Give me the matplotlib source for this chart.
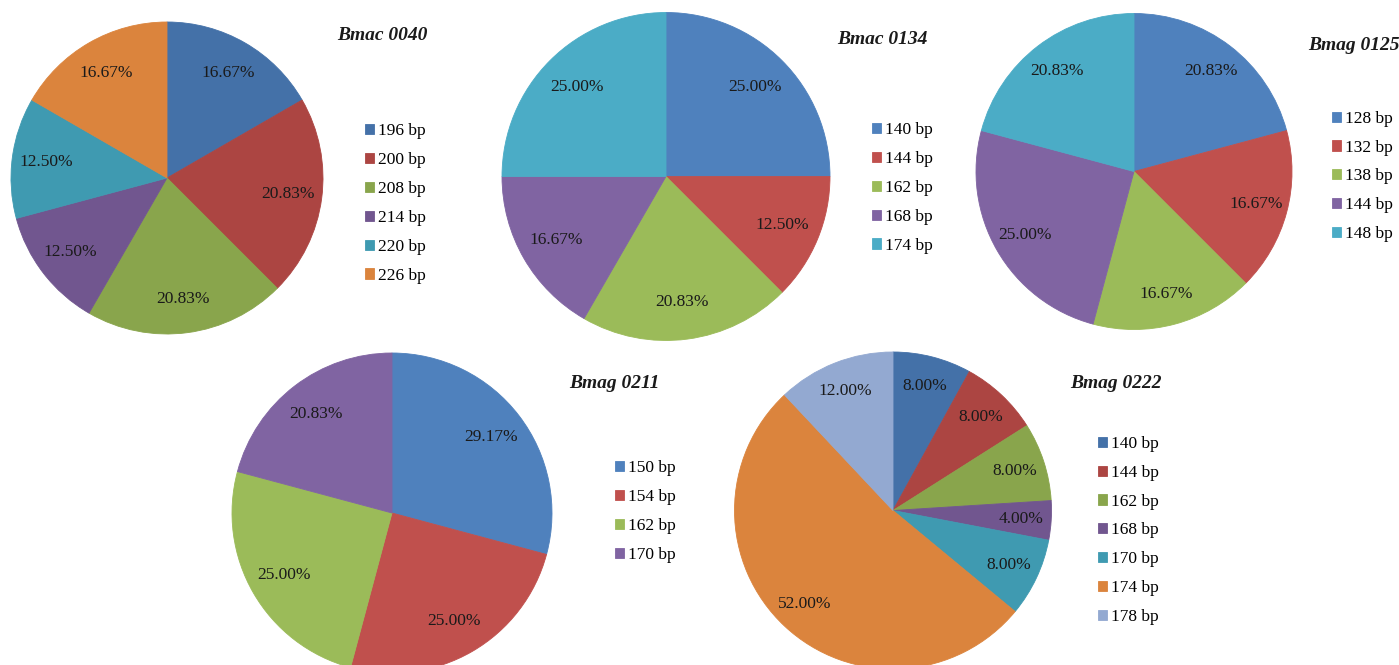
import matplotlib
matplotlib.use("Agg")
import matplotlib.pyplot as plt

plt.rcParams['font.family'] = ['Liberation Serif', 'DejaVu Serif']

# ---- data ----
titles = ["Bmac 0040", "Bmac 0134", "Bmag 0125", "Bmag 0211", "Bmag 0222"]

labels_0040 = ["196 bp", "200 bp", "208 bp", "214 bp", "220 bp", "226 bp"]
values_0040 = [16.67, 20.83, 20.83, 12.50, 12.50, 16.67]

labels_0134 = ["140 bp", "144 bp", "162 bp", "168 bp", "174 bp"]
values_0134 = [25.00, 12.50, 20.83, 16.67, 25.00]

labels_0125 = ["128 bp", "132 bp", "138 bp", "144 bp", "148 bp"]
values_0125 = [20.83, 16.67, 16.67, 25.00, 20.83]

labels_0211 = ["150 bp", "154 bp", "162 bp", "170 bp"]
values_0211 = [29.17, 25.00, 25.00, 20.83]

labels_0222 = ["140 bp", "144 bp", "162 bp", "168 bp", "170 bp", "174 bp", "178 bp"]
values_0222 = [8.00, 8.00, 8.00, 4.00, 8.00, 52.00, 12.00]

# ---- styles ----
light = ['#4F81BD', '#C0504D', '#9BBB59', '#8064A2', '#4BACC6', '#F79646']
dark = ['#4471A8', '#AC4542', '#89A54C', '#71568F', '#3F9AB1', '#DB843D', '#93A9D1']

W, H = 1399, 665
fig = plt.figure(figsize=(W / 100, H / 100), dpi=100)
fig.patch.set_facecolor('white')

FS = 12.5
TFS = 14

# (cx, cy, r) pixel geometry, legend (x, center y), title (x, y), pctdistance
specs = [
    dict(vals=values_0040, labs=labels_0040, cols=dark, geo=(167, 178, 156),
         leg=(365, 203.5), tit=(382, 35), pd=0.78),
    dict(vals=values_0134, labs=labels_0134, cols=light, geo=(666, 176.5, 164),
         leg=(872, 188), tit=(882, 40), pd=0.77),
    dict(vals=values_0125, labs=labels_0125, cols=light, geo=(1134, 171.5, 158),
         leg=(1332, 176.5), tit=(1354, 45), pd=0.80),
    dict(vals=values_0211, labs=labels_0211, cols=light, geo=(392, 513, 160),
         leg=(615, 511.5), tit=(614, 383), pd=0.78),
    dict(vals=values_0222, labs=labels_0222, cols=dark, geo=(893, 510.5, 158.5),
         leg=(1098, 530.5), tit=(1116, 383), pd=0.81),
]

for title, s in zip(titles, specs):
    cx, cy, r = s['geo']
    ax = fig.add_axes([(cx - r) / W, 1 - (cy + r) / H, 2 * r / W, 2 * r / H])
    cols = s['cols'][:len(s['vals'])]
    wedges, texts, autotexts = ax.pie(
        s['vals'], colors=cols, startangle=90,
        counterclock=False, autopct='%.2f%%', pctdistance=s['pd'],
        wedgeprops=dict(linewidth=0.6),
        textprops=dict(fontsize=FS, color='#1a1a1a'))
    for w, c in zip(wedges, cols):
        w.set_edgecolor(c)
    ax.set_xlim(-1, 1)
    ax.set_ylim(-1, 1)
    ax.set_aspect('equal')
    ax.axis('off')

    lx, ly = s['leg']
    fig.legend(wedges, s['labs'], loc='center left',
               bbox_to_anchor=(lx / W, 1 - ly / H), bbox_transform=fig.transFigure,
               frameon=False, fontsize=FS, handlelength=0.52, handleheight=0.52,
               handletextpad=0.25, labelspacing=0.74, borderpad=0, borderaxespad=0)

    tx, ty = s['tit']
    fig.text(tx / W, 1 - ty / H, title, ha='center', va='center', fontsize=TFS,
             fontweight='bold', fontstyle='italic', color='#1a1a1a')

fig.savefig('out.png', dpi=100, facecolor='white')
